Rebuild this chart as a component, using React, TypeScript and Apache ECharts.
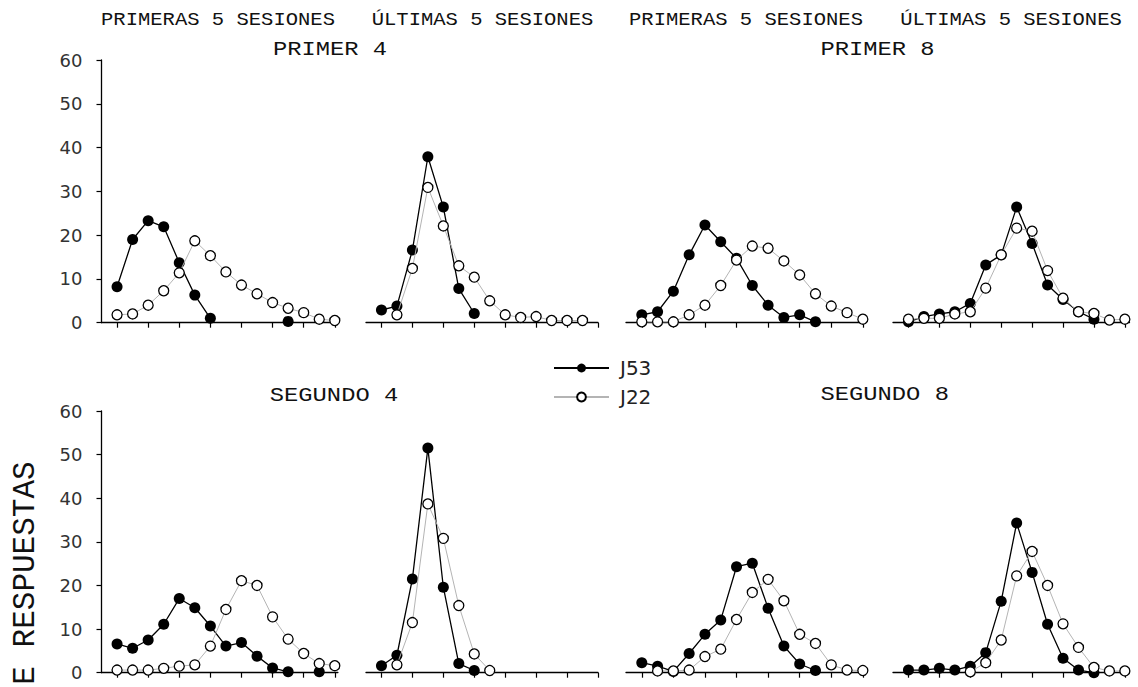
import React, { useEffect, useRef } from "react";
import * as echarts from "echarts";

// Bins (15 per panel) and tick positions
const bins = [0, 1, 2, 3, 4, 5, 6, 7, 8, 9, 10, 11, 12, 13, 14];
const tickBins = [0, 2, 4, 6, 8, 10, 12, 14];

const topHeaders = ["PRIMERAS 5 SESIONES", "ÚLTIMAS 5 SESIONES", "PRIMERAS 5 SESIONES", "ÚLTIMAS 5 SESIONES"];
const groupTitles = ["PRIMER 4", "PRIMER 8", "SEGUNDO 4", "SEGUNDO 8"];
const seriesNames = ["J53", "J22"];
const yTitle = "E RESPUESTAS";

// PRIMER 4
const p4FirstJ53 = [8.2, 19.0, 23.3, 21.9, 13.7, 6.3, 1.0, null, null, null, null, 0.3, null, null, null];
const p4FirstJ22 = [1.8, 2.0, 4.0, 7.3, 11.4, 18.7, 15.3, 11.6, 8.6, 6.6, 4.6, 3.3, 2.3, 0.8, 0.5];
const p4LastJ53 = [2.9, 3.8, 16.6, 37.9, 26.4, 7.8, 2.1, null, null, null, null, null, null, null, null];
const p4LastJ22 = [null, 1.8, 12.4, 30.9, 22.1, 13.0, 10.4, 5.0, 1.8, 1.2, 1.4, 0.5, 0.5, 0.5, null];
// PRIMER 8
const p8FirstJ53 = [1.8, 2.5, 7.2, 15.5, 22.3, 18.5, 14.7, 8.5, 4.0, 1.2, 1.8, 0.2, null, null, null];
const p8FirstJ22 = [0.2, 0.2, 0.2, 1.8, 4.0, 8.5, 14.3, 17.5, 17.0, 14.1, 10.9, 6.6, 3.8, 2.3, 0.8];
const p8LastJ53 = [0.2, 1.4, 2.0, 2.5, 4.4, 13.2, 15.5, 26.4, 18.1, 8.6, 5.3, 2.5, 0.8, null, null];
const p8LastJ22 = [0.8, 1.0, 1.0, 2.0, 2.5, 7.9, 15.5, 21.6, 20.9, 11.9, 5.6, 2.5, 2.1, 0.6, 0.8];
// SEGUNDO 4
const s4FirstJ53 = [6.6, 5.6, 7.5, 11.1, 17.0, 14.9, 10.7, 6.1, 6.9, 3.8, 1.1, 0.2, null, 0.2, null];
const s4FirstJ22 = [0.6, 0.6, 0.6, 1.0, 1.5, 1.8, 6.1, 14.5, 21.1, 20.0, 12.8, 7.7, 4.4, 2.1, 1.6];
const s4LastJ53 = [1.6, 4.0, 21.5, 51.5, 19.6, 2.1, 0.5, null, null, null, null, null, null, null, null];
const s4LastJ22 = [null, 1.8, 11.5, 38.7, 30.8, 15.4, 4.3, 0.5, null, null, null, null, null, null, null];
// SEGUNDO 8
const s8FirstJ53 = [2.3, 1.5, 0.3, 4.4, 8.8, 12.1, 24.3, 25.1, 14.8, 6.1, 2.0, 0.5, null, null, null];
const s8FirstJ22 = [null, 0.4, 0.4, 0.6, 3.7, 5.4, 12.2, 18.4, 21.4, 16.5, 8.8, 6.7, 1.8, 0.6, 0.5];
const s8LastJ53 = [0.6, 0.6, 1.0, 0.6, 1.5, 4.6, 16.4, 34.3, 23.0, 11.1, 3.3, 0.6, 0.0, null, null];
const s8LastJ22 = [null, null, null, null, 0.2, 2.3, 7.5, 22.2, 27.8, 20.0, 11.2, 5.8, 1.2, 0.4, 0.4];

const panels = [
  [p4FirstJ53, p4FirstJ22],
  [p4LastJ53, p4LastJ22],
  [p8FirstJ53, p8FirstJ22],
  [p8LastJ53, p8LastJ22],
  [s4FirstJ53, s4FirstJ22],
  [s4LastJ53, s4LastJ22],
  [s8FirstJ53, s8FirstJ22],
  [s8LastJ53, s8LastJ22],
];

// layout
const colLeft = [101.5, 366, 626, 893];
const colWidth = [236.4, 232, 240, 236.5];
const colMax = [14.2, 14, 14.2, 14.3];
const rowTop = [60, 411];
const rowHeight = [262.7, 261.7];

const MONO = "'Liberation Mono', 'DejaVu Sans Mono', monospace";
const SANS = "'DejaVu Sans', sans-serif";

export default function App() {
  const ref = useRef<HTMLDivElement>(null);
  useEffect(() => {
    if (!ref.current) return;
    const chart = echarts.init(ref.current, null, { renderer: "svg" });
    const grids: any[] = [];
    const xAxes: any[] = [];
    const yAxes: any[] = [];
    const series: any[] = [];
    panels.forEach((pair, p) => {
      const row = p < 4 ? 0 : 1;
      const col = p % 4;
      grids.push({ left: colLeft[col], top: rowTop[row], width: colWidth[col], height: rowHeight[row] });
      xAxes.push({
        gridIndex: p,
        type: "value",
        min: -1,
        max: colMax[col],
        axisLine: { show: true, onZero: false, lineStyle: { color: "#000", width: 1.3 } },
        axisTick: { show: true, length: 5, customValues: tickBins, lineStyle: { color: "#000", width: 1.2 } },
        axisLabel: { show: false },
        splitLine: { show: false },
      });
      yAxes.push({
        gridIndex: p,
        type: "value",
        min: 0,
        max: 60,
        interval: 10,
        show: col === 0,
        axisLine: { show: true, onZero: false, lineStyle: { color: "#000", width: 1.3 } },
        axisTick: { show: true, length: 5, lineStyle: { color: "#000", width: 1.2 } },
        axisLabel: { show: true, margin: 19, fontFamily: SANS, fontSize: 18, color: "#333" },
        splitLine: { show: false },
      });
      series.push({
        name: seriesNames[0],
        type: "line",
        xAxisIndex: p,
        yAxisIndex: p,
        data: bins.map((b, i) => [b, pair[0][i] == null ? "-" : pair[0][i]]),
        symbol: "circle",
        symbolSize: 11,
        showAllSymbol: true,
        connectNulls: false,
        lineStyle: { color: "#000", width: 1.3 },
        itemStyle: { color: "#000", borderColor: "#000", borderWidth: 0 },
        z: 2,
      });
      series.push({
        name: seriesNames[1],
        type: "line",
        xAxisIndex: p,
        yAxisIndex: p,
        data: bins.map((b, i) => [b, pair[1][i] == null ? "-" : pair[1][i]]),
        symbol: "circle",
        symbolSize: 10,
        showAllSymbol: true,
        connectNulls: false,
        lineStyle: { color: "#b4b4b4", width: 1 },
        itemStyle: { color: "#fff", borderColor: "#000", borderWidth: 1.3 },
        z: 3,
      });
    });

    const headerCenters = [218, 482.5, 746, 1011];
    const titlePos = [
      [330, 50],
      [877.5, 50],
      [334, 396],
      [884.7, 395],
    ];
    const graphics: any[] = [];
    topHeaders.forEach((t, i) => {
      graphics.push({
        type: "text",
        x: headerCenters[i],
        y: 20,
        scaleX: 1.14,
        style: { text: t, fontFamily: MONO, fontSize: 18, fill: "#111", align: "center", verticalAlign: "middle" },
      });
    });
    groupTitles.forEach((t, i) => {
      graphics.push({
        type: "text",
        x: titlePos[i][0],
        y: titlePos[i][1],
        scaleX: 1.22,
        style: { text: t, fontFamily: MONO, fontSize: 19.5, fill: "#111", align: "center", verticalAlign: "middle" },
      });
    });
    graphics.push({
      type: "text",
      x: 25,
      y: 573,
      rotation: Math.PI / 2,
      style: { text: yTitle, fontFamily: MONO, fontSize: 31, fill: "#111", align: "center", verticalAlign: "middle" },
    });

    chart.setOption({
      animation: false,
      backgroundColor: "#fff",
      grid: grids,
      xAxis: xAxes,
      yAxis: yAxes,
      series,
      legend: {
        data: seriesNames,
        orient: "vertical",
        left: 548,
        top: 353,
        itemWidth: 55,
        itemHeight: 11,
        itemGap: 9,
        selectedMode: false,
        textStyle: { fontFamily: SANS, fontSize: 20, color: "#222", padding: [0, 0, 0, 6] },
      },
      graphic: graphics,
    });
    return () => chart.dispose();
  }, []);
  return <div ref={ref} style={{ position: "fixed", left: 0, top: 0, width: 1138, height: 687, background: "#fff" }} />;
}
